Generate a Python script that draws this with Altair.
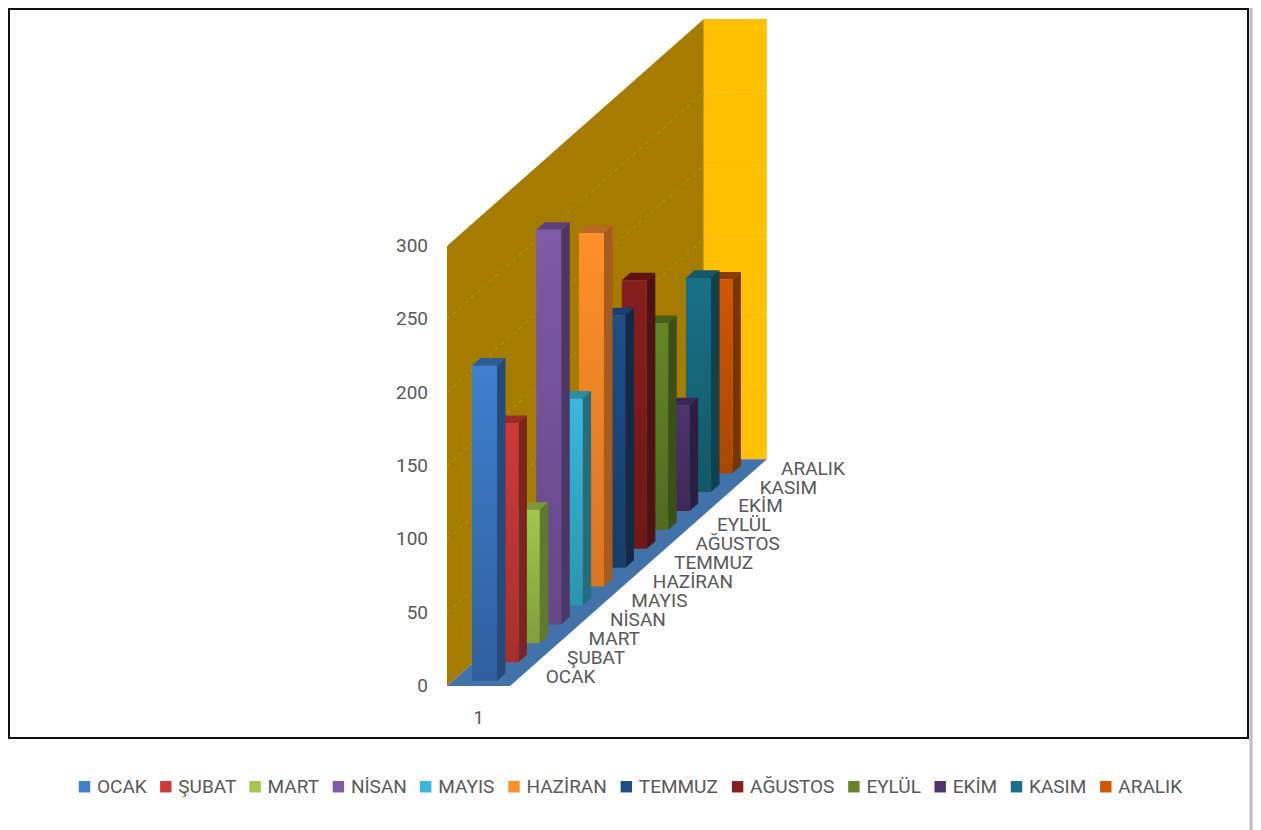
import altair as alt
import pandas as pd

months = ["OCAK", "ŞUBAT", "MART", "NİSAN", "MAYIS", "HAZİRAN", "TEMMUZ", "AĞUSTOS", "EYLÜL", "EKİM", "KASIM", "ARALIK"]
values = [215, 163, 91, 269, 141, 241, 172, 183, 141, 72, 146, 132]
front_top = ["#3E7FCF", "#CE3A38", "#A0C84A", "#7F5AA8", "#38B8DC", "#FF8F2A", "#1F4E85", "#861E1E", "#658528", "#4E3270", "#187088", "#D25600"]
front_bottom = ["#2F5F9F", "#A5302F", "#7F9F3A", "#664688", "#2C94AE", "#D9761F", "#173C66", "#6F1818", "#4F6B20", "#3F2858", "#125868", "#A94600"]
side_color = ["#264A7A", "#7C2422", "#5F7A2D", "#4D3566", "#1F6E82", "#A65C1C", "#112A48", "#4F1212", "#3B4F18", "#2D1D40", "#0E4250", "#7A3400"]
top_color = ["#2D5C98", "#9B2A28", "#7A9A36", "#5C4080", "#2A8DA8", "#B86A20", "#1A4070", "#601212", "#46601C", "#3A2558", "#125A6A", "#8A3C00"]
ticks = [0, 50, 100, 150, 200, 250, 300]

TEXT = "#595959"
FONT = "Roboto"
W, H = 1245, 822
K = 1.467           # px per value unit
X0 = 439            # front-left floor corner, chart px
Y0 = 678            # floor line, chart px
DX, DY = 21.4, 18.9 # projection of one depth category, px
FLOOR_W = 63

yscale = alt.Scale(domain=[(Y0 - H) / K, Y0 / K], range=[H, 0], nice=False, zero=False)
xscale = alt.Scale(domain=[0, W], range=[0, W], nice=False, zero=False)
X = lambda f: alt.X(f, type="quantitative", scale=xscale, axis=None)
Y = lambda f: alt.Y(f, type="quantitative", scale=yscale, axis=None, stack=None)

def px(lat, d):
    return X0 + lat + DX * d

def py(v, d):
    return v + d * DY / K

def page_y(y):
    return (Y0 + 8 - y) / K

def vface(x1, x2, ya1, ya2, yb1, yb2, fill):
    df = pd.DataFrame({"x": [x1, x2], "a": [ya1, ya2], "b": [yb1, yb2]})
    return alt.Chart(df).mark_area(color=fill, orient="vertical").encode(
        x=X("x"), y=Y("a"), y2=alt.Y2("b"))

def hface(y1, y2, xa1, xa2, xb1, xb2, fill):
    df = pd.DataFrame({"y": [y1, y2], "a": [xa1, xa2], "b": [xb1, xb2]})
    return alt.Chart(df).mark_area(color=fill, orient="horizontal").encode(
        y=Y("y"), x=alt.X("a", type="quantitative", scale=xscale, axis=None, stack=None), x2=alt.X2("b"))

layers = []

# series legend, carried by points hidden behind the wall
legend_df = pd.DataFrame({"m": months, "x": [px(30, 3)] * 12, "y": [py(60, 3)] * 12})
layers.append(alt.Chart(legend_df).mark_square(size=120, opacity=1).encode(
    x=X("x"), y=Y("y"),
    color=alt.Color("m:N", sort=months, scale=alt.Scale(domain=months, range=front_top),
                    legend=alt.Legend(orient="none", legendX=67, legendY=769, direction="horizontal",
                                      columns=12, title=None, symbolType="square", symbolSize=130,
                                      symbolStrokeWidth=0, labelFont=FONT, labelFontSize=19,
                                      labelColor=TEXT, labelLimit=200, columnPadding=9.3, labelOffset=3))))

# walls and floor
layers.append(vface(px(0, 0), px(0, 12), py(0, 0), py(0, 12), py(300, 0), py(300, 12), "#A67C00"))
layers.append(vface(px(0, 12), px(FLOOR_W, 12), py(0, 12), py(0, 12), py(300, 12), py(300, 12), "#FFC000"))
layers.append(hface(py(0, 0), py(0, 12), px(0, 0), px(0, 12), px(FLOOR_W, 0), px(FLOOR_W, 12), "#4272AA"))

# gridlines
grid = pd.DataFrame({
    "x": [px(0, 0) for _ in ticks[1:]], "x2": [px(0, 12) for _ in ticks[1:]],
    "y": [py(t, 0) for t in ticks[1:]], "y2": [py(t, 12) for t in ticks[1:]]})
layers.append(alt.Chart(grid).mark_rule(color="#FFFFFF", opacity=0.16, strokeDash=[4, 4], strokeWidth=1).encode(
    x=X("x"), x2=alt.X2("x2"), y=Y("y"), y2=alt.Y2("y2")))
grid2 = pd.DataFrame({
    "x": [px(0, 12) for _ in ticks[1:]], "x2": [px(FLOOR_W, 12) for _ in ticks[1:]],
    "y": [py(t, 12) for t in ticks[1:]]})
layers.append(alt.Chart(grid2).mark_rule(color="#FFFFFF", opacity=0.12, strokeWidth=1).encode(
    x=X("x"), x2=alt.X2("x2"), y=Y("y")))

# bars, back to front
LAT1, LAT2 = 19.4, 44.4
D1, D2 = 0.26, 0.66
for i in reversed(range(12)):
    v = values[i]
    xl, xr = px(LAT1, i + D1), px(LAT2, i + D1)
    xlb, xrb = px(LAT1, i + D2), px(LAT2, i + D2)
    layers.append(hface(py(v, i + D1), py(v, i + D2), xl, xlb, xr, xrb, top_color[i]))
    layers.append(vface(xr, xrb, py(0, i + D1), py(0, i + D2), py(v, i + D1), py(v, i + D2), side_color[i]))
    grad = alt.Gradient(gradient="linear", x1=0, y1=0, x2=0, y2=1,
                        stops=[alt.GradientStop(color=front_top[i], offset=0),
                               alt.GradientStop(color=front_bottom[i], offset=1)])
    fdf = pd.DataFrame({"x": [xl], "x2": [xr], "y": [py(0, i + D1)], "y2": [py(v, i + D1)]})
    layers.append(alt.Chart(fdf).mark_rect(fill=grad).encode(
        x=X("x"), x2=alt.X2("x2"), y=Y("y"), y2=alt.Y2("y2")))

# value labels
ydf = pd.DataFrame({"t": [str(t) for t in ticks], "x": [420] * len(ticks), "y": ticks})
layers.append(alt.Chart(ydf).mark_text(align="right", baseline="middle", font=FONT, fontSize=19, color=TEXT).encode(
    x=X("x"), y=Y("y"), text="t:N"))

# depth labels
ddf = pd.DataFrame({"t": months, "x": [px(88, i + 0.5) for i in range(12)], "y": [py(0, i + 0.5) for i in range(12)]})
layers.append(alt.Chart(ddf).mark_text(align="left", baseline="middle", font=FONT, fontSize=19, color=TEXT).encode(
    x=X("x"), y=Y("y"), text="t:N"))

# category label
cdf = pd.DataFrame({"t": ["1"], "x": [px(31.5, 0)], "y": [page_y(718)]})
layers.append(alt.Chart(cdf).mark_text(align="center", baseline="middle", font=FONT, fontSize=19, color=TEXT).encode(
    x=X("x"), y=Y("y"), text="t:N"))

# frame
fdf = pd.DataFrame({"x": [1], "x2": [1240], "y": [page_y(9)], "y2": [page_y(738)]})
layers.append(alt.Chart(fdf).mark_rect(fillOpacity=0, stroke="#111111", strokeWidth=2).encode(
    x=X("x"), x2=alt.X2("x2"), y=Y("y"), y2=alt.Y2("y2")))

# window edge at the right
edge = pd.DataFrame({"x": [1243], "y": [page_y(8)], "y2": [page_y(830)]})
layers.append(alt.Chart(edge).mark_rule(color="#BDBDBD", strokeWidth=3).encode(
    x=X("x"), y=Y("y"), y2=alt.Y2("y2")))

chart = alt.layer(*layers).properties(
    width=W, height=H, padding=0, autosize=alt.AutoSizeParams(type="none", contains="content")
).configure_view(stroke=None).resolve_scale(color="independent")

chart.save("out.html", embed_options={"renderer": "svg", "actions": False})
